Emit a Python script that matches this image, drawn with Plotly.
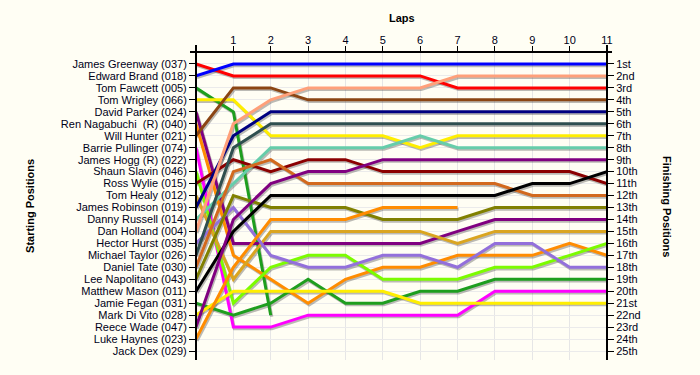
import plotly.graph_objects as go

laps = list(range(12))

drivers = [
    "James Greenway (037)", "Edward Brand (018)", "Tom Fawcett (005)", "Tom Wrigley (066)",
    "David Parker (024)", "Ren Nagabuchi  (R) (040)", "Will Hunter (021)", "Barrie Pullinger (074)",
    "James Hogg (R) (022)", "Shaun Slavin (046)", "Ross Wylie (015)", "Tom Healy (012)",
    "James Robinson (019)", "Danny Russell (014)", "Dan Holland (004)", "Hector Hurst (035)",
    "Michael Taylor (026)", "Daniel Tate (030)", "Lee Napolitano (043)", "Matthew Mason (011)",
    "Jamie Fegan (031)", "Mark Di Vito (028)", "Reece Wade (047)", "Luke Haynes (023)",
    "Jack Dex (029)",
]

finish_labels = ["1st", "2nd", "3rd"] + [f"{i}th" for i in range(4, 21)] + ["21st", "22nd", "23rd", "24th", "25th"]

driver_colors = [
    "#FF0000", "#0000FF", "#1E9E1E", "#FFEE00", "#800080", "#FF8C00", "#8B4513", "#FF00FF",
    "#DDDDDD", "#7CFC00", "#8B0000", "#DAA520", "#000080", "#66CDAA", "#FFA07A", "#9370DB",
    "#2F4F4F", "#D2691E", "#808000", "#000000", "#1E9E1E", "#FFEE00", "#800080", "#FF8C00",
    "#DDDDDD",
]

# position at lap 0 (start), 1, 2, ... (list ends when driver stops)
lap_positions = [
    [1, 2, 2, 2, 2, 2, 2, 3, 3, 3, 3, 3],
    [2, 1, 1, 1, 1, 1, 1, 1, 1, 1, 1, 1],
    [3, 5, 22],
    [4, 4, 7, 7, 7, 7, 8, 7, 7, 7, 7, 7],
    [5, 16, 16, 16, 16, 16, 16, 15, 14, 14, 14, 14],
    [6, 17, 19, 21, 19, 18, 18, 17, 17, 17, 16, 17],
    [7, 3, 3, 4, 4, 4, 4, 4, 4, 4, 4, 4],
    [8, 23, 23, 22, 22, 22, 22, 22, 20, 20, 20, 20],
    [9],
    [10, 21, 18, 17, 17, 19, 19, 19, 18, 18, 17, 16],
    [11, 9, 10, 9, 9, 10, 10, 10, 10, 10, 10, 11],
    [12, 19, 15, 15, 15, 15, 15, 16, 15, 15, 15, 15],
    [13, 7, 5, 5, 5, 5, 5, 5, 5, 5, 5, 5],
    [14, 11, 8, 8, 8, 8, 7, 8, 8, 8, 8, 8],
    [15, 6, 4, 3, 3, 3, 3, 2, 2, 2, 2, 2],
    [16, 13, 17, 18, 18, 17, 17, 18, 16, 16, 18, 18],
    [17, 8, 6, 6, 6, 6, 6, 6, 6, 6, 6, 6],
    [18, 10, 9, 11, 11, 11, 11, 11, 11, 12, 12, 12],
    [19, 12, 13, 13, 13, 14, 14, 14, 13, 13, 13, 13],
    [20, 15, 12, 12, 12, 12, 12, 12, 12, 11, 11, 10],
    [21, 22, 21, 19, 21, 21, 20, 20, 19, 19, 19, 19],
    [22, 20, 20, 20, 20, 20, 21, 21, 21, 21, 21, 21],
    [23, 14, 11, 10, 10, 9, 9, 9, 9, 9, 9, 9],
    [24, 18, 14, 14, 14, 13, 13, 13],
    [25],
]

BG = "#FFFEF4"
FONT = "Liberation Sans, Arial, sans-serif"
TXT = "#000018"

fig = go.Figure()

# shadows
for pos in lap_positions:
    if len(pos) < 2:
        continue
    fig.add_trace(go.Scatter(
        x=[l + 0.03 for l in laps[:len(pos)]], y=[p + 0.14 for p in pos],
        mode="lines", line=dict(color="rgba(60,60,60,0.35)", width=3),
        hoverinfo="skip", showlegend=False, xaxis="x", yaxis="y"))

for name, col, pos in zip(drivers, driver_colors, lap_positions):
    if len(pos) < 2:
        continue
    fig.add_trace(go.Scatter(
        x=laps[:len(pos)], y=pos, mode="lines", name=name,
        line=dict(color=col, width=3), hoverinfo="skip", showlegend=False,
        xaxis="x", yaxis="y"))

# dummy trace for right axis
fig.add_trace(go.Scatter(x=[0], y=[1], mode="markers", marker=dict(opacity=0),
                         hoverinfo="skip", showlegend=False, xaxis="x", yaxis="y2"))

yr = [25.75, 0]
fig.update_layout(
    width=700, height=375,
    paper_bgcolor=BG, plot_bgcolor=BG,
    margin=dict(l=196, r=93, t=52, b=15, autoexpand=False),
    font=dict(family=FONT, size=11, color=TXT),
    xaxis=dict(side="top", range=[0, 11], tickvals=list(range(1, 12)),
               ticks="outside", ticklen=5, tickcolor="black", tickwidth=1,
               showline=False, showgrid=True, gridcolor="#E6E6E6", gridwidth=1,
               zeroline=False, automargin=False, ticklabelstandoff=-2,
               tickfont=dict(family=FONT, size=11, color=TXT)),
    yaxis=dict(range=yr, tickvals=list(range(1, 26)), ticktext=drivers,
               ticks="outside", ticklen=6, tickcolor="black", showline=False,
               showgrid=True, gridcolor="#EBEBEB", zeroline=False, automargin=False,
               tickfont=dict(family=FONT, size=11, color=TXT)),
    yaxis2=dict(range=yr, overlaying="y", side="right", tickvals=list(range(1, 26)),
                ticktext=finish_labels, ticks="outside", ticklen=6, tickcolor="black",
                showline=False, showgrid=False, zeroline=False, automargin=False,
                tickfont=dict(family=FONT, size=11, color=TXT)),
    annotations=[
        dict(text="<b>Laps</b>", x=0.5, y=1.11, xref="paper", yref="paper",
             xanchor="center", yanchor="middle",
             showarrow=False, font=dict(family=FONT, size=11, color="black")),
        dict(text="<b>Starting Positions</b>", x=-0.404, y=0.5, xref="paper", yref="paper",
             xanchor="center", yanchor="middle",
             textangle=-90, showarrow=False, font=dict(family=FONT, size=11, color="black")),
        dict(text="<b>Finishing Positions</b>", x=1.146, y=0.5, xref="paper", yref="paper",
             xanchor="center", yanchor="middle",
             textangle=90, showarrow=False, font=dict(family=FONT, size=11, color="black")),
    ],
    shapes=[
        dict(type="line", xref="paper", yref="paper", x0=-0.0146, x1=1.0122, y0=1, y1=1,
             line=dict(color="black", width=2)),
        dict(type="line", xref="paper", yref="paper", x0=0, x1=0, y0=0, y1=1.0227,
             line=dict(color="black", width=2)),
        dict(type="line", xref="paper", yref="paper", x0=1, x1=1, y0=0, y1=1.0227,
             line=dict(color="black", width=2)),
    ],
)

fig.write_html("out.html", config={"displayModeBar": False},
               post_script="document.body.style.margin='0';document.body.style.background='#FFFEF4';")
